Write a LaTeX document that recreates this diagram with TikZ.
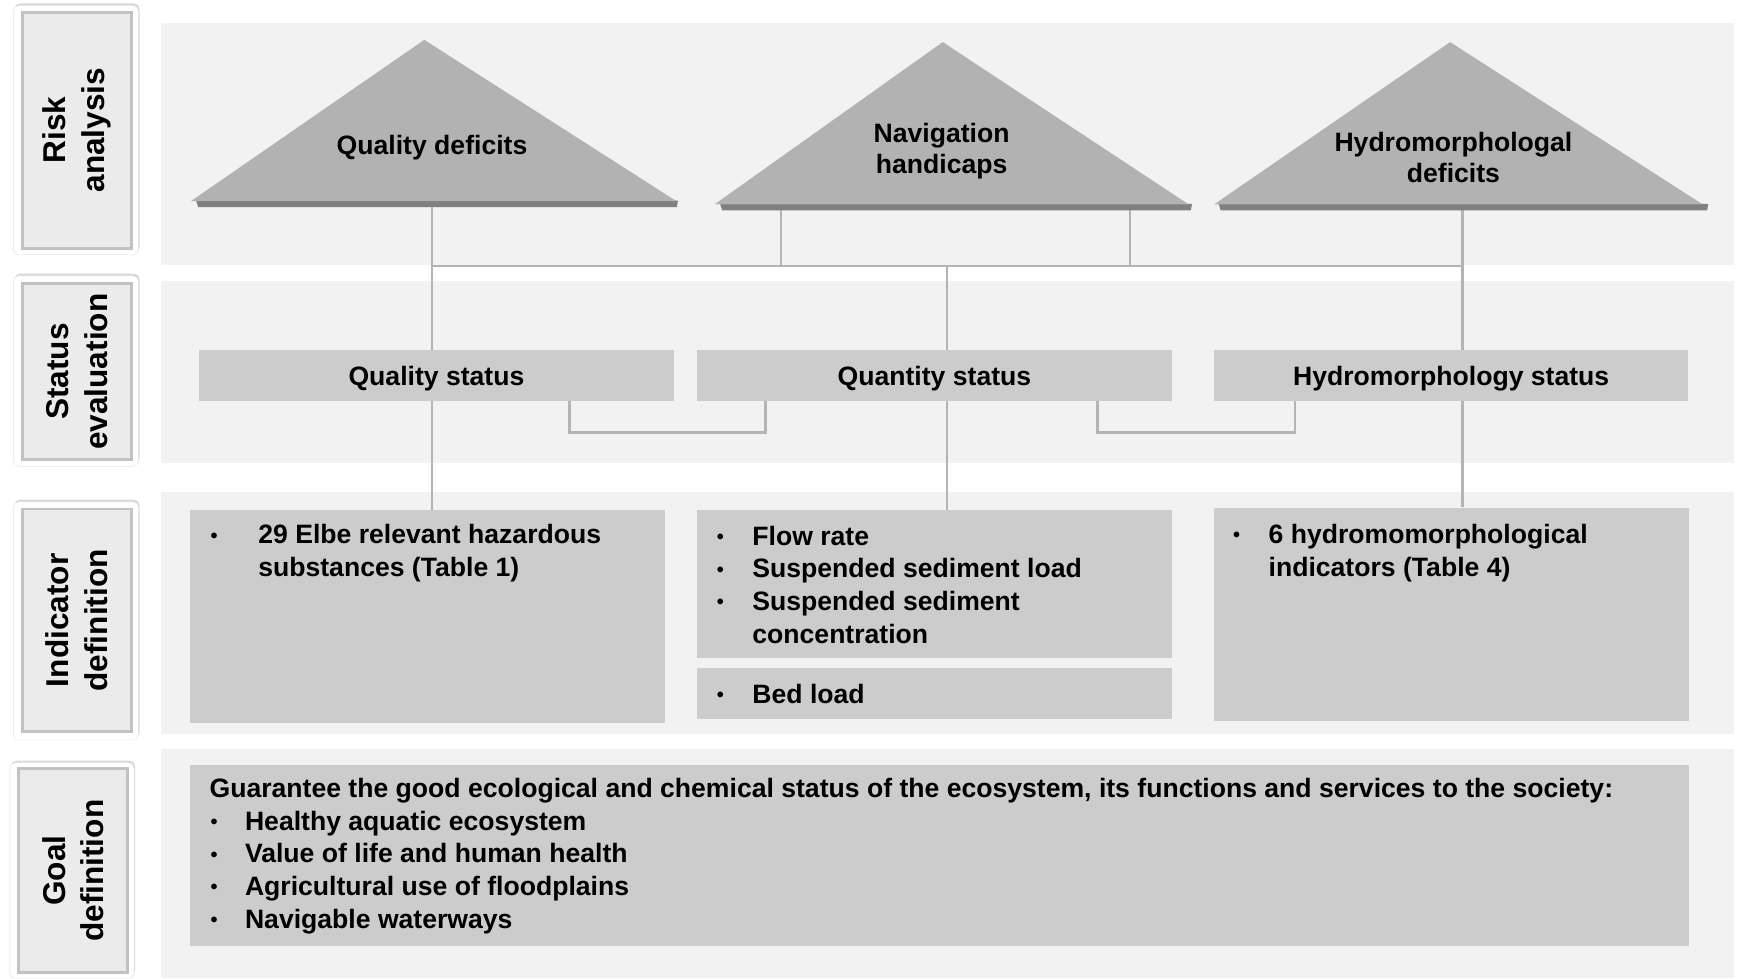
\documentclass[tikz,border=0pt]{standalone}
\usepackage{fontspec}
\setmainfont{Liberation Sans}
\usepackage{tikz}
\usetikzlibrary{positioning, shadows}
\usepackage{xcolor}
\definecolor{bandgray}{HTML}{F2F2F2}
\definecolor{boxgray}{HTML}{CCCCCC}
\definecolor{trigray}{HTML}{B2B2B2}
\definecolor{trishade}{HTML}{808080}
\definecolor{linkgray}{HTML}{B4B4B4}
\definecolor{labelgray}{HTML}{EBEBEB}
\definecolor{labeledge}{HTML}{C2C2C2}
\pgfdeclarelayer{bands}
\pgfdeclarelayer{links}
\pgfsetlayers{bands,links,main}
\newcommand{\bul}[1]{\makebox[#1][l]{\hspace*{1pt}\raisebox{1.5pt}{\scalebox{0.75}{\textbullet}}}}

\begin{document}
\begin{tikzpicture}[x=1pt, y=-1pt,
  boxtext/.style={font=\bfseries\fontsize{24}{29.5}\selectfont},
  labelout/.style={fill=white, draw=gray!20, rounded corners=5pt, drop shadow={opacity=0.3, shadow xshift=1pt, shadow yshift=2pt}},
  labelin/.style={fill=labelgray, draw=labeledge, line width=2.5pt, rotate=90, align=center, font=\bfseries\fontsize{28.5}{35}\selectfont},
  statbox/.style={fill=boxgray, minimum width=428pt, minimum height=46pt, inner sep=0pt, text height=17.5pt, text depth=0pt, boxtext},
  indbox/.style={fill=boxgray, anchor=north west, inner sep=0pt},
  itemtext/.style={anchor=base west, align=left, inner sep=0pt, boxtext},
  tritext/.style={align=center, inner sep=0pt, boxtext, font=\bfseries\fontsize{24}{28.5}\selectfont},
  link/.style={draw=linkgray, line width=2.4pt}]
\useasboundingbox (0,0) rectangle (1568,883);

% Bands
\begin{pgfonlayer}{bands}
\fill[bandgray] (145,21) rectangle (1565,239);
\fill[bandgray] (145,253.5) rectangle (1565,417.5);
\fill[bandgray] (145,444) rectangle (1565,662.5);
\fill[bandgray] (145,676) rectangle (1565,883);
\end{pgfonlayer}

% Stage labels
\node[labelout, minimum width=113pt, minimum height=225pt] (riskout) at (68.5,117.5) {};
\node[labelin, minimum width=213pt, minimum height=99pt] (risk) at (69.5,117.5) {Risk\\analysis};
\node[labelout, minimum width=113pt, minimum height=172pt] (statout) at (68.5,335) {};
\node[labelin, minimum width=159pt, minimum height=99pt] (stat) at (69.5,335.5) {Status\\evaluation};
\node[labelout, minimum width=113pt, minimum height=215pt] (indout) at (68.5,560.5) {};
\node[labelin, minimum width=201pt, minimum height=99pt] (ind) at (69.5,560) {Indicator\\definition};
\node[labelout, minimum width=112pt, minimum height=195pt] (goalout) at (65,786) {};
\node[labelin, minimum width=184pt, minimum height=98pt] (goaldef) at (66,786) {Goal\\definition};

% Risk analysis
\fill[trishade] (177,181) -- (612,181) -- (611,187) -- (179,187) -- cycle;
\fill[trigray] (383,36) -- (610.5,181.5) -- (172.5,181.5) -- cycle;
\node[tritext] (qdef) at (390,133.5) {Quality deficits};
\fill[trishade] (650,184) -- (1076,184) -- (1075,190) -- (652,190) -- cycle;
\fill[trigray] (851,38) -- (1073,184.5) -- (645,184.5) -- cycle;
\node[tritext] (nav) at (850,136.5) {Navigation\\handicaps};
\fill[trishade] (1100,184) -- (1542,184) -- (1541,190) -- (1102,190) -- cycle;
\fill[trigray] (1309,38) -- (1537,184.5) -- (1096,184.5) -- cycle;
\node[tritext] (hyd) at (1312,142) {Hydromorphologal\\deficits};

% Status evaluation
\node[statbox] (qstat) at (394,339) {Quality status};
\node[statbox, minimum width=429pt] (qtystat) at (843.5,339) {Quantity status};
\node[statbox] (hstat) at (1310,339) {Hydromorphology status};

% Indicator definition (text anchored at last baseline)
\node[indbox, minimum width=429pt, minimum height=192pt] (qind) at (171,460) {};
\node[itemtext] (qindtxt) at (189,520.5) {\bul{44pt}29 Elbe relevant hazardous\\\hspace*{44pt}substances (Table 1)};
\node[indbox, minimum width=429pt, minimum height=134pt] (qtyind) at (629,460) {};
\node[itemtext] (qtyindtxt) at (646,580.5) {\bul{33pt}Flow rate\\\bul{33pt}Suspended sediment load\\\bul{33pt}Suspended sediment\\\hspace*{33pt}concentration};
\node[indbox, minimum width=429pt, minimum height=46.5pt] (bedind) at (629,602.5) {};
\node[itemtext] (bedindtxt) at (646,635) {\bul{33pt}Bed load};
\node[indbox, minimum width=428.5pt, minimum height=193pt] (hind) at (1095.5,458) {};
\node[itemtext] (hindtxt) at (1112,520) {\bul{33pt}6 hydromomorphological\\\hspace*{33pt}indicators (Table 4)};

% Goal definition
\node[indbox, minimum width=1353pt, minimum height=163pt] (goal) at (171,690.5) {};
\node[itemtext] (goaltxt) at (189,838) {Guarantee the good ecological and chemical status of the ecosystem, its functions and services to the society:\\
  \bul{32pt}Healthy aquatic ecosystem\\\bul{32pt}Value of life and human health\\\bul{32pt}Agricultural use of floodplains\\\bul{32pt}Navigable waterways};

% Links
\coordinate (qdefb) at (390,183);
\coordinate (navl) at (705,189);
\coordinate (navr) at (1020,189);
\coordinate (hydb) at (1320,189);
\coordinate (busl) at (390,240);
\coordinate (busm) at (855,240);
\coordinate (busr) at (1320,240);
\begin{pgfonlayer}{links}
\draw[link] (qdefb) -- (qdefb |- qind.north);
\draw[link] (busl) -- (busr);
\draw[link] (navl) -- (navl |- busl);
\draw[link] (navr) -- (navr |- busl);
\draw[link] (hydb) -- (hydb |- hind.north);
\draw[link] (busm) -- (busm |- qtyind.north);
\draw[link] ([xshift=120pt]qstat.south) -- ++(0,28) -| ([xshift=-152.5pt]qtystat.south);
\draw[link] ([xshift=147.5pt]qtystat.south) -- ++(0,28) -| ([xshift=-141pt]hstat.south);
\end{pgfonlayer}
\end{tikzpicture}
\end{document}
